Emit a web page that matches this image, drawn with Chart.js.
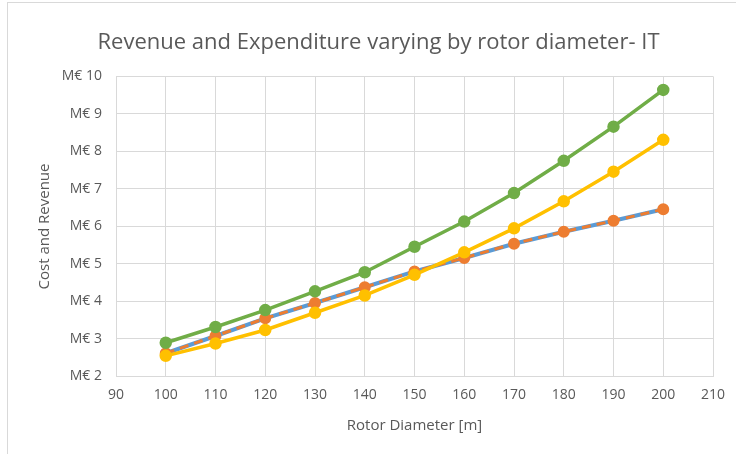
<!DOCTYPE html>
<html>
<head>
<meta charset="utf-8">
<script src="https://cdn.jsdelivr.net/npm/chart.js@4"></script>
<style>
    html, body { margin: 0; padding: 0; background: #fff; }
    #wrap { position: relative; width: 736px; height: 454px; }
    #frame { position: absolute; left: 7px; top: 2px; width: 760px; height: 480px; border: 1px solid #d9d9d9; box-sizing: border-box; }
    canvas { position: absolute; left: 0; top: 0; }
</style>
</head>
<body>
<div id="wrap">
    <div id="frame"></div>
    <canvas id="rotorChart" width="736" height="454"></canvas>
</div>
<script>
const rotorDiameter = [100, 110, 120, 130, 140, 150, 160, 170, 180, 190, 200];
const costBlue   = [2.62, 3.08, 3.55, 3.96, 4.38, 4.80, 5.16, 5.54, 5.86, 6.15, 6.46];
const costOrange = [2.62, 3.08, 3.55, 3.96, 4.38, 4.80, 5.16, 5.54, 5.86, 6.15, 6.46];
const costYellow = [2.55, 2.88, 3.24, 3.70, 4.16, 4.71, 5.31, 5.95, 6.67, 7.46, 8.31];
const revenueGreen = [2.90, 3.32, 3.77, 4.27, 4.78, 5.46, 6.13, 6.89, 7.75, 8.66, 9.64];

const textColor = '#595959';
const gridColor = '#d9d9d9';
const fontFamily = "'Open Sans', sans-serif";

function toPoints(values) {
    return rotorDiameter.map((d, i) => ({ x: d, y: values[i] }));
}

var ctx = document.getElementById('rotorChart').getContext('2d');

new Chart(ctx, {
    type: 'line',
    data: {
        datasets: [{
            label: 'Revenue',
            data: toPoints(revenueGreen),
            borderColor: '#70AD47',
            backgroundColor: '#70AD47',
            borderWidth: 3.5,
            pointRadius: 4.5,
            order: 1
        }, {
            label: 'Cost A',
            data: toPoints(costOrange),
            borderColor: '#ED7D31',
            backgroundColor: '#ED7D31',
            borderWidth: 3,
            borderDash: [9, 6],
            pointRadius: 4.5,
            order: 2
        }, {
            label: 'Cost B',
            data: toPoints(costBlue),
            borderColor: '#5B9BD5',
            backgroundColor: '#5B9BD5',
            borderWidth: 4,
            pointRadius: 0,
            order: 3
        }, {
            label: 'Cost C',
            data: toPoints(costYellow),
            borderColor: '#FFC000',
            backgroundColor: '#FFC000',
            borderWidth: 3.5,
            pointRadius: 4.5,
            order: 0
        }]
    },
    options: {
        responsive: false,
        animation: false,
        layout: { padding: { left: 44, right: 23, top: 0, bottom: 0 } },
        plugins: {
            legend: { display: false },
            tooltip: { enabled: false },
            title: {
                display: true,
                text: 'Revenue and Expenditure varying by rotor diameter- IT',
                color: textColor,
                font: { family: fontFamily, size: 22, weight: 'normal' },
                padding: { top: 30, bottom: 20 }
            }
        },
        scales: {
            x: {
                type: 'linear',
                min: 90,
                max: 210,
                ticks: {
                    stepSize: 10,
                    color: textColor,
                    font: { family: fontFamily, size: 14 },
                    padding: 10
                },
                grid: { color: gridColor, drawTicks: false },
                border: { color: gridColor },
                title: {
                    display: true,
                    text: 'Rotor Diameter [m]',
                    color: textColor,
                    font: { family: fontFamily, size: 15 },
                    padding: { top: 10, bottom: 19 }
                },
                afterFit: function (scale) { scale.height = 77.5; }
            },
            y: {
                min: 2,
                max: 10,
                ticks: {
                    stepSize: 1,
                    color: textColor,
                    font: { family: fontFamily, size: 14 },
                    padding: 14,
                    callback: function (v) { return 'M€ ' + v; }
                },
                grid: { color: gridColor, drawTicks: false },
                border: { color: gridColor },
                title: {
                    display: true,
                    text: 'Cost and Revenue',
                    color: textColor,
                    font: { family: fontFamily, size: 15 },
                    padding: { top: -8, bottom: 6 }
                },
                afterFit: function (scale) { scale.width = 72; }
            }
        }
    }
});
</script>
</body>
</html>
